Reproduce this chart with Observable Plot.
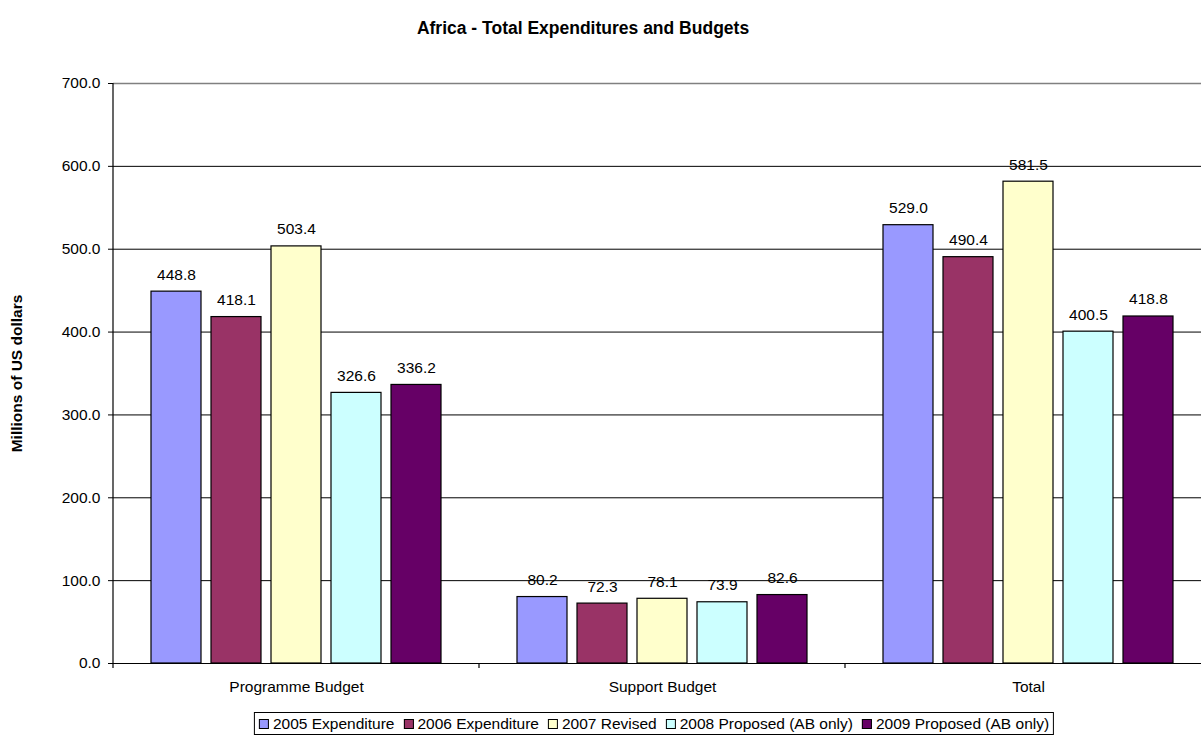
<!DOCTYPE html>
<html><head><meta charset="utf-8">
<script src="https://cdn.jsdelivr.net/npm/d3@7"></script>
<script src="https://cdn.jsdelivr.net/npm/@observablehq/plot@0.6"></script>
<style>
html,body{margin:0;padding:0;background:#fff;}
body{width:1201px;height:735px;overflow:hidden;position:relative;font-family:"Liberation Sans",Arial,sans-serif;color:#000;}
#title{height:45px;position:relative;}
#title span{position:absolute;left:583px;top:18px;transform:translateX(-50%);font-weight:bold;font-size:17.5px;line-height:20px;white-space:nowrap;}
#chart{width:1211px;height:655px;}
#legend{position:absolute;top:712px;left:654px;transform:translateX(-50%);border:1px solid #000;display:flex;gap:9px;padding:1px 4px;font-size:15.5px;white-space:nowrap;line-height:19px;}
#legend .item{display:flex;align-items:center;gap:4px;}
#legend .sw{width:8px;height:8px;border:1px solid #000;display:inline-block;}
#chart svg [aria-label="y-axis label"] text, #chart svg [aria-label="y-axis label"]{font-weight:bold;}
</style></head><body>
<div id="title"><span>Africa - Total Expenditures and Budgets</span></div>
<div id="chart"></div>
<div id="legend"></div>
<script>
const groups = ["Programme Budget", "Support Budget", "Total"];
const series = ["2005 Expenditure", "2006 Expenditure", "2007 Revised", "2008 Proposed (AB only)", "2009 Proposed (AB only)"];
const colors = ["#9999FF", "#993366", "#FFFFCC", "#CCFFFF", "#660066"];
const programmeBudget = [448.8, 418.1, 503.4, 326.6, 336.2];
const supportBudget = [80.2, 72.3, 78.1, 73.9, 82.6];
const totalBudget = [529.0, 490.4, 581.5, 400.5, 418.8];
const yTicks = [0, 100, 200, 300, 400, 500, 600, 700];

const valuesByGroup = [programmeBudget, supportBudget, totalBudget];
const data = groups.flatMap((g, i) => series.map((s, j) => ({group: g, series: s, value: valuesByGroup[i][j]})));

const plot = Plot.plot({
  width: 1211,
  height: 655,
  marginLeft: 113,
  marginRight: 0,
  marginTop: 38,
  marginBottom: 37,
  style: {fontFamily: '"Liberation Sans", Arial, sans-serif', fontSize: "15.5px", color: "#000", background: "#fff", overflow: "visible"},
  fx: {domain: groups, padding: 0, round: false, axis: "bottom", label: null, tickSize: 0, tickPadding: 17},
  x: {domain: series, paddingInner: 1/6, paddingOuter: 0.6333, round: false, axis: null},
  y: {domain: [0, 700], ticks: yTicks, tickFormat: d => d.toFixed(1), tickSize: 5, tickPadding: 8,
      label: "Millions of US dollars", labelAnchor: "center", labelOffset: 103, labelArrow: "none"},
  color: {domain: series, range: colors},
  marks: [
    Plot.ruleY(yTicks.slice(1, -1), {stroke: "#000", strokeWidth: 1}),
    Plot.ruleY(yTicks.slice(-1), {stroke: "#808080", strokeWidth: 1.5}),
    Plot.barY(data, {fx: "group", x: "series", y: "value", fill: "series", stroke: "#000", strokeWidth: 1.2}),
    Plot.text(data, {fx: "group", x: "series", y: "value", text: d => d.value.toFixed(1), dy: -12, lineAnchor: "bottom", fill: "#000"}),
    Plot.ruleY([0], {stroke: "#000", strokeWidth: 1.2})
  ]
});
document.getElementById("chart").appendChild(plot);

// axis line and group-boundary ticks via the library's scales
const fx = plot.scale("fx"), y = plot.scale("y");
const svg = d3.select(plot);
const y0 = y.apply(0), yTop = y.apply(700);
const left = fx.apply(groups[0]);
const g = svg.append("g").attr("stroke", "#000").attr("stroke-width", 1.2);
g.append("line").attr("x1", left).attr("x2", left).attr("y1", yTop).attr("y2", y0 + 5);
groups.forEach(gr => {
  const xs = fx.apply(gr) + fx.bandwidth;
  g.append("line").attr("x1", xs).attr("x2", xs).attr("y1", y0).attr("y2", y0 + 5);
});

// legend
const legend = d3.select("#legend");
series.forEach((s, i) => {
  const it = legend.append("div").attr("class", "item");
  it.append("span").attr("class", "sw").style("background", colors[i]);
  it.append("span").text(s);
});
</script>
</body></html>
